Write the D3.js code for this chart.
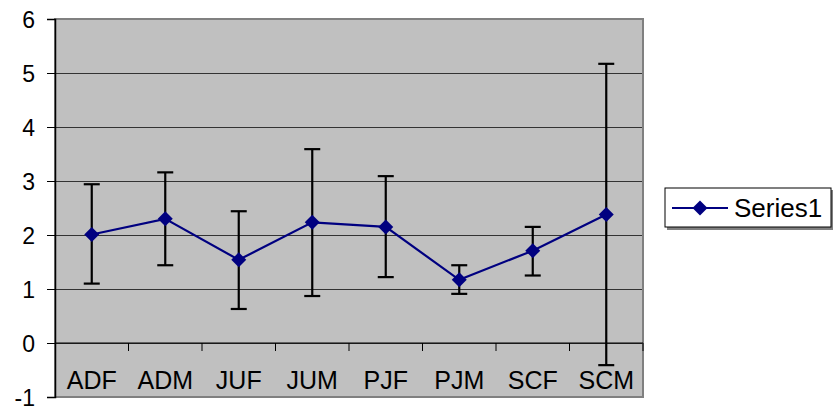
<!DOCTYPE html>
<html><head><meta charset="utf-8">
<script src="https://cdn.jsdelivr.net/npm/d3@7"></script>
<style>body{margin:0;background:#fff;} svg{display:block;font-family:"Liberation Sans",Arial,sans-serif;}</style>
</head><body>
<script>
const categories = ["ADF","ADM","JUF","JUM","PJF","PJM","SCF","SCM"];
const values     = [2.01, 2.30, 1.54, 2.235, 2.15, 1.17, 1.71, 2.38];
const errLow     = [1.10, 1.44, 0.63, 0.87, 1.22, 0.91, 1.25, -0.41];
const errHigh    = [2.94, 3.16, 2.44, 3.59, 3.09, 1.44, 2.15, 5.17];
const yTicks     = [-1,0,1,2,3,4,5,6];
const seriesName = "Series1";

const W=833,H=409;
const svg=d3.select("body").append("svg").attr("width",W).attr("height",H);
const L=55,R=643,T=19,B=397;
const x=d3.scaleBand().domain(categories).range([L,R]);
const y=d3.scaleLinear().domain([-1,6]).range([B,T]);
const FF="Liberation Sans, Arial, sans-serif";

// plot background
svg.append("rect").attr("x",L).attr("y",T).attr("width",R-L).attr("height",B-T).attr("fill","#C0C0C0");
// gridlines
svg.append("g").selectAll("line").data(yTicks.filter(d=>d>-1&&d<6)).join("line")
  .attr("x1",L).attr("x2",R).attr("y1",d=>y(d)).attr("y2",d=>y(d))
  .attr("stroke","#333").attr("stroke-width",1).attr("shape-rendering","crispEdges");
// plot border
svg.append("rect").attr("x",L).attr("y",T).attr("width",R-L).attr("height",B-T)
  .attr("fill","none").attr("stroke","#808080").attr("stroke-width",2);

// y axis
const yAxis=d3.axisLeft(y).tickValues(yTicks).tickSize(8).tickPadding(12).tickFormat(d=>String(d));
const gy=svg.append("g").attr("transform",`translate(${L},0)`).call(yAxis);
gy.attr("font-size",null).attr("font-family",null);
gy.select(".domain").attr("stroke","#000").attr("stroke-width",1.5);
gy.selectAll(".tick line").attr("stroke","#000");
gy.selectAll(".tick text").style("font-size","23px").attr("fill","#000").style("font-family",FF).attr("dy","0.36em");

// x axis at y=0
const boundaries=categories.map((c,i)=>x(c)).concat([R]).slice(1);
const gx=svg.append("g").attr("transform",`translate(0,${y(0)})`);
gx.append("line").attr("x1",L).attr("x2",R).attr("y1",0).attr("y2",0).attr("stroke","#000").attr("stroke-width",1);
gx.selectAll("line.tk").data(boundaries).join("line").attr("class","tk")
  .attr("x1",d=>d).attr("x2",d=>d).attr("y1",0).attr("y2",8).attr("stroke","#000");
gx.selectAll("text").data(categories).join("text")
  .attr("x",d=>x(d)+x.bandwidth()/2).attr("y",46)
  .attr("text-anchor","middle").style("font-size","25px").style("font-family",FF).attr("fill","#000").text(d=>d);

// error bars
const eb=svg.append("g");
categories.forEach((c,i)=>{
  const cx=x(c)+x.bandwidth()/2;
  eb.append("line").attr("x1",cx).attr("x2",cx).attr("y1",y(errLow[i])).attr("y2",y(errHigh[i])).attr("stroke","#000").attr("stroke-width",2.2);
  [errLow[i],errHigh[i]].forEach(v=>eb.append("line").attr("x1",cx-8).attr("x2",cx+8).attr("y1",y(v)).attr("y2",y(v)).attr("stroke","#000").attr("stroke-width",2.2));
});

// line
const line=d3.line().x((d,i)=>x(categories[i])+x.bandwidth()/2).y(d=>y(d));
svg.append("path").datum(values).attr("d",line).attr("fill","none").attr("stroke","#000080").attr("stroke-width",2.2);
const dm="M0,-7.5L7.5,0L0,7.5L-7.5,0Z";
svg.append("g").selectAll("path").data(values).join("path")
  .attr("transform",(d,i)=>`translate(${x(categories[i])+x.bandwidth()/2},${y(d)})`)
  .attr("d",dm).attr("fill","#000080");

// legend
const lg=svg.append("g");
lg.append("rect").attr("x",667).attr("y",190).attr("width",168).attr("height",40).attr("fill","#808080");
lg.append("rect").attr("x",665).attr("y",188).attr("width",166).attr("height",39).attr("fill","#fff").attr("stroke","#000").attr("stroke-width",1);
lg.append("line").attr("x1",672).attr("x2",728).attr("y1",208).attr("y2",208).attr("stroke","#000080").attr("stroke-width",2.2);
lg.append("path").attr("transform","translate(700,208)").attr("d",dm).attr("fill","#000080");
lg.append("text").attr("x",734).attr("y",217).style("font-size","26px").style("font-family",FF).attr("fill","#000").text(seriesName);
</script>
</body></html>
